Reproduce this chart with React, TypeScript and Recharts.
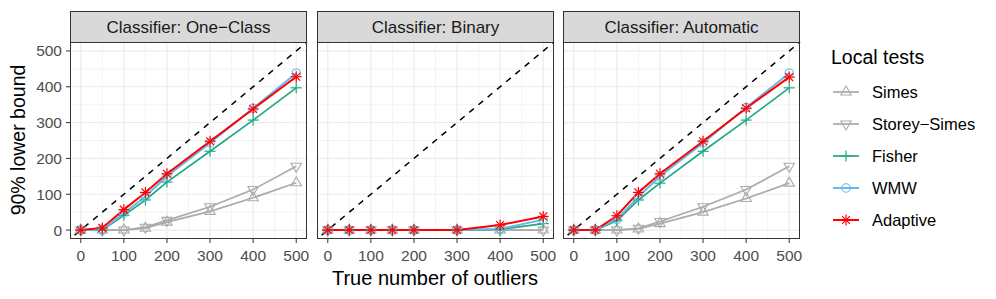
import React from 'react';
import { LineChart, Line, XAxis, YAxis, ReferenceLine } from 'recharts';

// ---------- data ----------
const xValues = [0, 50, 100, 150, 200, 300, 400, 500];
const xTicks = [0, 100, 200, 300, 400, 500];
const yTicks = [0, 100, 200, 300, 400, 500];
const minorBreaks = [50, 150, 250, 350, 450];
const panelTitles = ['Classifier: One\u2212Class', 'Classifier: Binary', 'Classifier: Automatic'];
const seriesNames = ['Simes', 'Storey\u2212Simes', 'Fisher', 'WMW', 'Adaptive'];

const oneClassSimes = [0, 0, 0, 5, 22, 52, 90, 132];
const oneClassStorey = [0, 0, 0, 8, 27, 65, 113, 178];
const oneClassFisher = [0, 0, 41, 84, 134, 220, 307, 397];
const oneClassWMW = [0, 0, 47, 94, 150, 243, 340, 438];
const oneClassAdaptive = [0, 6, 57, 105, 157, 248, 338, 428];

const binarySimes = [0, 0, 0, 0, 0, 0, 0, 0];
const binaryStorey = [0, 0, 0, 0, 0, 0, 0, 0];
const binaryFisher = [0, 0, 0, 0, 0, 0, 2, 18];
const binaryWMW = [0, 0, 0, 0, 0, 0, 3, 29];
const binaryAdaptive = [0, 0, 0, 0, 0, 0, 14, 38];

const autoSimes = [0, 0, 0, 3, 18, 50, 88, 131];
const autoStorey = [0, 0, 0, 5, 24, 65, 113, 178];
const autoFisher = [0, 0, 26, 84, 131, 220, 307, 397];
const autoWMW = [0, 0, 30, 93, 150, 243, 342, 438];
const autoAdaptive = [0, 0, 40, 105, 157, 248, 340, 427];

const panelSeries = [
  [oneClassSimes, oneClassStorey, oneClassFisher, oneClassWMW, oneClassAdaptive],
  [binarySimes, binaryStorey, binaryFisher, binaryWMW, binaryAdaptive],
  [autoSimes, autoStorey, autoFisher, autoWMW, autoAdaptive],
];

// ---------- style ----------
const KEYS = ['simes', 'storey', 'fisher', 'wmw', 'adaptive'];
const COLORS = ['#ABABAB', '#ABABAB', '#21A883', '#5BB9EC', '#FF0000'];
const SHAPES = ['triUp', 'triDown', 'plus', 'circle', 'star'];
const WIDTHS = [1.7, 1.7, 1.7, 1.9, 2];
const FONT = '"Liberation Sans", Arial, Helvetica, sans-serif';

const PLOT_TOP = 42;
const PLOT_H = 197;
const PANEL_W = 237;
const PANEL_LEFTS = [70, 317, 563];
const STRIP_TOP = 11;
const AXIS_H = 45;
const PAD = 20;
const TICK_FS = 15.5;

function Marker({ shape, cx, cy, color }: any) {
  const sw = 1.1;
  if (shape === 'triUp' || shape === 'triDown') {
    const r = 6;
    const s = shape === 'triUp' ? 1 : -1;
    const pts = [
      [cx, cy - s * r],
      [cx + r * 0.866, cy + s * r * 0.5],
      [cx - r * 0.866, cy + s * r * 0.5],
    ]
      .map((p) => p.join(','))
      .join(' ');
    return <polygon points={pts} fill="none" stroke={color} strokeWidth={sw} />;
  }
  if (shape === 'circle') {
    return <circle cx={cx} cy={cy} r={4.2} fill="none" stroke={color} strokeWidth={sw} />;
  }
  const a = 5.5;
  const d = a * 0.707;
  return (
    <g stroke={color} strokeWidth={1.2}>
      <line x1={cx - a} y1={cy} x2={cx + a} y2={cy} />
      <line x1={cx} y1={cy - a} x2={cx} y2={cy + a} />
      {shape === 'star' && (
        <>
          <line x1={cx - d} y1={cy - d} x2={cx + d} y2={cy + d} />
          <line x1={cx - d} y1={cy + d} x2={cx + d} y2={cy - d} />
        </>
      )}
    </g>
  );
}

const makeDot = (shape: string, color: string) => (props: any) => {
  const { cx, cy, index } = props;
  if (cx == null || cy == null) return <g key={index} />;
  return (
    <g key={index}>
      <Marker shape={shape} cx={cx} cy={cy} color={color} />
    </g>
  );
};

function Panel({ p }: { p: number }) {
  const showY = p === 0;
  const left = PANEL_LEFTS[p];
  const yW = showY ? left : 0;
  const padL = showY ? 0 : PAD;
  const data = xValues.map((x, i) => {
    const row: any = { x };
    KEYS.forEach((k, s) => (row[k] = panelSeries[p][s][i]));
    return row;
  });
  return (
    <div style={{ position: 'absolute', left: showY ? 0 : left - padL, top: PLOT_TOP }}>
      <LineChart
        width={PANEL_W + yW + padL + PAD}
        height={PLOT_H + AXIS_H}
        data={data}
        margin={{ top: 0, right: PAD, bottom: 0, left: padL }}
      >
        <XAxis
          type="number"
          dataKey="x"
          domain={[-25, 525]}
          ticks={xTicks}
          interval={0}
          allowDataOverflow
          height={AXIS_H}
          axisLine={false}
          tickSize={4}
          tickMargin={7}
          stroke="#333333"
          tick={{ fill: '#4D4D4D', fontSize: TICK_FS, fontFamily: FONT }}
        />
        <YAxis
          type="number"
          domain={[-25, 525]}
          ticks={yTicks}
          interval={0}
          allowDataOverflow
          hide={!showY}
          width={yW}
          axisLine={false}
          tickSize={4}
          tickMargin={4}
          stroke="#333333"
          tick={{ fill: '#4D4D4D', fontSize: TICK_FS, fontFamily: FONT }}
        />
        {minorBreaks.map((v) => (
          <ReferenceLine key={'mx' + v} x={v} stroke="#EBEBEB" strokeWidth={0.6} />
        ))}
        {minorBreaks.map((v) => (
          <ReferenceLine key={'my' + v} y={v} stroke="#EBEBEB" strokeWidth={0.6} />
        ))}
        {xTicks.map((v) => (
          <ReferenceLine key={'Mx' + v} x={v} stroke="#EBEBEB" strokeWidth={1.2} />
        ))}
        {yTicks.map((v) => (
          <ReferenceLine key={'My' + v} y={v} stroke="#EBEBEB" strokeWidth={1.2} />
        ))}
        <ReferenceLine
          segment={[
            { x: -25, y: -25 },
            { x: 525, y: 525 },
          ]}
          stroke="#000000"
          strokeWidth={1.5}
          strokeDasharray="6 6"
          strokeDashoffset={6}
        />
        {KEYS.map((k, s) => (
          <Line
            key={k}
            type="linear"
            dataKey={k}
            stroke={COLORS[s]}
            strokeWidth={WIDTHS[s]}
            dot={makeDot(SHAPES[s], COLORS[s])}
            activeDot={false}
            isAnimationActive={false}
          />
        ))}
      </LineChart>
    </div>
  );
}

function Overlay() {
  const legendYs = [92, 124, 156, 188, 220];
  return (
    <svg
      width={996}
      height={299}
      style={{ position: 'absolute', left: 0, top: 0, pointerEvents: 'none' }}
      fontFamily={FONT}
    >
      {PANEL_LEFTS.map((l, p) => (
        <g key={p}>
          <rect
            x={l + 0.5}
            y={STRIP_TOP + 0.5}
            width={PANEL_W - 1}
            height={PLOT_TOP - STRIP_TOP}
            fill="#D9D9D9"
            stroke="#333333"
            strokeWidth={1}
          />
          <text
            x={l + PANEL_W / 2}
            y={(STRIP_TOP + PLOT_TOP) / 2 + 6}
            textAnchor="middle"
            fontSize={17}
            fill="#1A1A1A"
          >
            {panelTitles[p]}
          </text>
          <rect
            x={l + 0.5}
            y={PLOT_TOP + 0.5}
            width={PANEL_W - 1}
            height={PLOT_H - 1}
            fill="none"
            stroke="#333333"
            strokeWidth={1}
          />
        </g>
      ))}
      <text
        transform="translate(25,140) rotate(-90)"
        textAnchor="middle"
        fontSize={19.5}
        fill="#000000"
      >
        90% lower bound
      </text>
      <text x={435} y={285} textAnchor="middle" fontSize={20} fill="#000000">
        True number of outliers
      </text>
      <text x={831} y={64} fontSize={19.5} fill="#000000">
        Local tests
      </text>
      {seriesNames.map((n, s) => (
        <g key={n}>
          <line
            x1={833}
            x2={859}
            y1={legendYs[s]}
            y2={legendYs[s]}
            stroke={COLORS[s]}
            strokeWidth={WIDTHS[s]}
          />
          <Marker shape={SHAPES[s]} cx={846} cy={legendYs[s]} color={COLORS[s]} />
          <text x={872} y={legendYs[s] + 6} fontSize={16.5} fill="#000000">
            {n}
          </text>
        </g>
      ))}
    </svg>
  );
}

export default function App() {
  return (
    <div
      style={{
        position: 'absolute',
        left: 0,
        top: 0,
        width: 996,
        height: 299,
        background: '#FFFFFF',
        fontFamily: FONT,
      }}
    >
      {[0, 1, 2].map((p) => (
        <Panel key={p} p={p} />
      ))}
      <Overlay />
    </div>
  );
}
